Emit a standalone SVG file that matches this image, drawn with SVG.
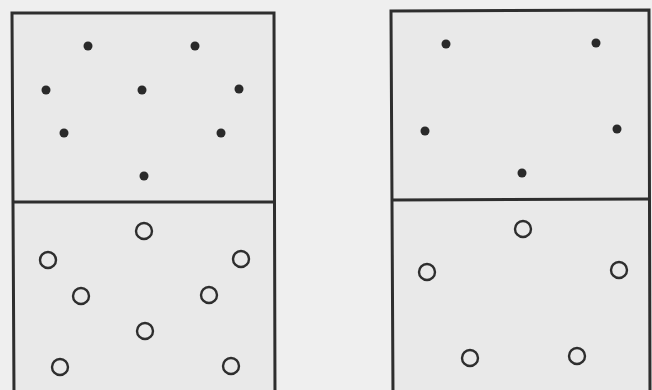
<svg xmlns="http://www.w3.org/2000/svg" width="652" height="390" viewBox="0 0 652 390">
<style>
.box{fill:#e9e9e9;stroke:#2e2e2e;stroke-width:3}
.div{stroke:#2e2e2e;stroke-width:3}
.dot{fill:#2a2a2a}
.ring{fill:none;stroke:#2e2e2e;stroke-width:2.4}
</style>
<rect width="652" height="390" fill="#efefef"/>
<g id="left-panel">
<path class="box" d="M12,13 L274,13 L275,395 L14,395 Z"/>
<line class="div" x1="13" y1="202" x2="274" y2="202"/>
<g id="left-dots">
<circle class="dot" cx="88" cy="46" r="4.5"/>
<circle class="dot" cx="195" cy="46" r="4.5"/>
<circle class="dot" cx="46" cy="90" r="4.5"/>
<circle class="dot" cx="142" cy="90" r="4.5"/>
<circle class="dot" cx="239" cy="89" r="4.5"/>
<circle class="dot" cx="64" cy="133" r="4.5"/>
<circle class="dot" cx="221" cy="133" r="4.5"/>
<circle class="dot" cx="144" cy="176" r="4.5"/>
</g>
<g id="left-rings">
<circle class="ring" cx="144" cy="231" r="8"/>
<circle class="ring" cx="48" cy="260" r="8"/>
<circle class="ring" cx="241" cy="259" r="8"/>
<circle class="ring" cx="81" cy="296" r="8"/>
<circle class="ring" cx="209" cy="295" r="8"/>
<circle class="ring" cx="145" cy="331" r="8"/>
<circle class="ring" cx="60" cy="367" r="8"/>
<circle class="ring" cx="231" cy="366" r="8"/>
</g>
</g>
<g id="right-panel">
<path class="box" d="M391,11 L649,10 L650,395 L393,395 Z"/>
<line class="div" x1="392" y1="200" x2="649" y2="199"/>
<g id="right-dots">
<circle class="dot" cx="446" cy="44" r="4.5"/>
<circle class="dot" cx="596" cy="43" r="4.5"/>
<circle class="dot" cx="425" cy="131" r="4.5"/>
<circle class="dot" cx="617" cy="129" r="4.5"/>
<circle class="dot" cx="522" cy="173" r="4.5"/>
</g>
<g id="right-rings">
<circle class="ring" cx="523" cy="229" r="8"/>
<circle class="ring" cx="427" cy="272" r="8"/>
<circle class="ring" cx="619" cy="270" r="8"/>
<circle class="ring" cx="470" cy="358" r="8"/>
<circle class="ring" cx="577" cy="356" r="8"/>
</g>
</g>
</svg>
